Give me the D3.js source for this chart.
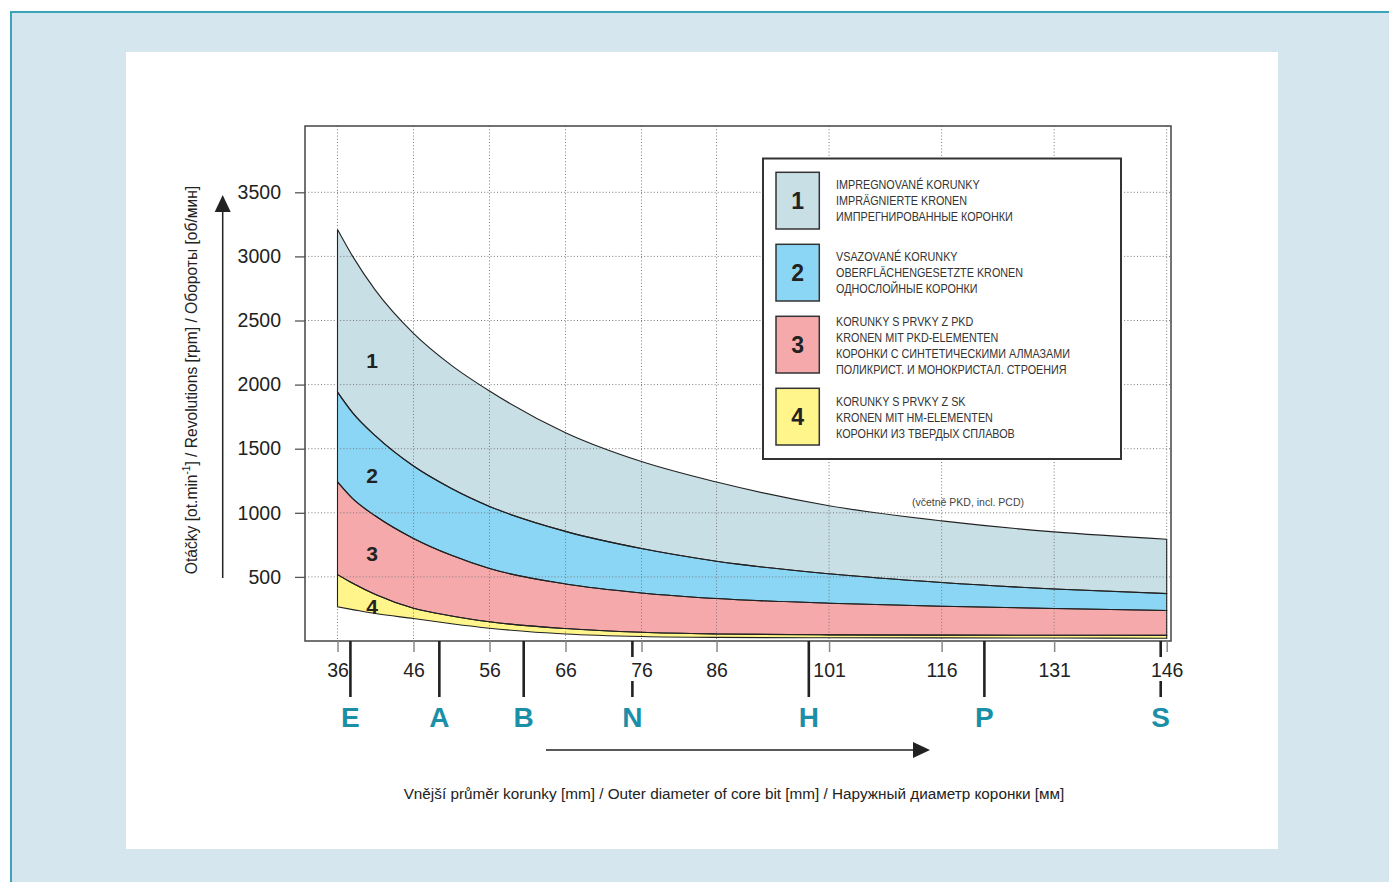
<!DOCTYPE html>
<html><head><meta charset="utf-8">
<script src="https://cdn.jsdelivr.net/npm/d3@7/dist/d3.min.js"></script>
<style>html,body{margin:0;padding:0;background:#fff;}svg{display:block;}</style>
</head><body>
<svg id="c" width="1389" height="882"></svg>
<script>
// ---- data ----
const tickDiam = [36, 46, 56, 66, 76, 86, 101, 116, 131, 146];
const curveDiam = [36, 38, 41, 46, 51, 56, 66, 76, 86, 101, 116, 131, 146];
const curve1 = [3210, 3000, 2735, 2400, 2150, 1950, 1625, 1400, 1240, 1055, 937, 851, 794];
const curve2 = [1942, 1780, 1600, 1365, 1190, 1050, 855, 721, 622, 524, 456, 406, 370];
const curve3 = [1241, 1110, 975, 800, 668, 565, 445, 375, 331, 295, 271, 253, 238];
const curve4 = [518, 450, 362, 255, 195, 150, 97, 68, 55, 48, 46, 45, 44];
const curve5 = [266, 245, 214, 175, 135, 100, 55, 35, 28, 25, 24, 23, 22];
const yTicks = [500, 1000, 1500, 2000, 2500, 3000, 3500];
const seriesLetters = ["E", "A", "B", "N", "H", "P", "S"];
const seriesDiam = [37.7, 49.4, 60.5, 74.8, 98.3, 121.7, 145.2];
const bandNames = ["1", "2", "3", "4"];
const bandLabelValue = [2190, 1290, 680, 268];
const legendLines = [
  ["IMPREGNOVANÉ KORUNKY", "IMPRÄGNIERTE KRONEN", "ИМПРЕГНИРОВАННЫЕ КОРОНКИ"],
  ["VSAZOVANÉ KORUNKY", "OBERFLÄCHENGESETZTE KRONEN", "ОДНОСЛОЙНЫЕ КОРОНКИ"],
  ["KORUNKY S PRVKY Z PKD", "KRONEN MIT PKD-ELEMENTEN", "КОРОНКИ С СИНТЕТИЧЕСКИМИ АЛМАЗАМИ", "ПОЛИКРИСТ. И МОНОКРИСТАЛ. СТРОЕНИЯ"],
  ["KORUNKY S PRVKY Z SK", "KRONEN MIT HM-ELEMENTEN", "КОРОНКИ ИЗ ТВЕРДЫХ СПЛАВОВ"]
];
const noteText = "(včetně PKD, incl. PCD)";
const yTitle = ["Otáčky [ot.min", "-1", "] / Revolutions [rpm] / Обороты [об/мин]"];
const xTitle = "Vnější průměr korunky [mm] / Outer diameter of core bit [mm] / Наружный диаметр коронки [мм]";

// ---- styles / layout ----
const bandColors = ["#c8dfe6", "#8bd6f5", "#f6a9ab", "#fff58a"];
const font = "'Liberation Sans', Arial, Helvetica, sans-serif";
const teal = "#1a8fa7";
const plot = {l: 305, r: 1171, t: 126, b: 641};

const svg = d3.select("#c");
svg.append("rect").attr("x", 11).attr("y", 12).attr("width", 1400).attr("height", 900)
  .attr("fill", "#d5e6ee").attr("stroke", "#3aa5b8").attr("stroke-width", 2);
svg.append("rect").attr("x", 126).attr("y", 52).attr("width", 1152).attr("height", 797).attr("fill", "#fff");

const x = d3.scaleLinear().domain([36, 76, 146]).range([337.5, 641.5, 1166.7]);
const y = d3.scaleLinear().domain([0, 4000]).range([641, 128.2]);

const curves = [curve1, curve2, curve3, curve4, curve5];
const bands = d3.range(4).map(i => curveDiam.map((d, j) => ({d, top: curves[i][j], bot: curves[i + 1][j]})));
const area = d3.area().x(p => x(p.d)).y0(p => y(p.bot)).y1(p => y(p.top)).curve(d3.curveMonotoneX);

const g = svg.append("g");
g.selectAll("path.band").data(bands).join("path").attr("class", "band")
  .attr("d", area).attr("fill", (d, i) => bandColors[i]).attr("stroke", "none");

// grid (dotted, over the fills)
const grid = g.append("g").attr("stroke", "#7a7a7a").attr("stroke-width", 1).attr("stroke-dasharray", "1,2.2");
grid.selectAll("line.v").data(tickDiam).join("line").attr("class", "v")
  .attr("x1", d => x(d)).attr("x2", d => x(d)).attr("y1", plot.t).attr("y2", plot.b);
grid.selectAll("line.h").data(yTicks).join("line").attr("class", "h")
  .attr("x1", plot.l).attr("x2", plot.r).attr("y1", d => y(d)).attr("y2", d => y(d));

// band outlines
g.selectAll("path.outline").data(bands).join("path").attr("class", "outline")
  .attr("d", area).attr("fill", "none").attr("stroke", "#222").attr("stroke-width", 1.1);

// band numbers
g.selectAll("text.bn").data(bandNames).join("text").attr("class", "bn")
  .attr("x", 372).attr("y", (d, i) => y(bandLabelValue[i]))
  .attr("text-anchor", "middle").attr("dominant-baseline", "central")
  .attr("font-family", font).attr("font-weight", "bold").attr("font-size", 21).attr("fill", "#222")
  .text(d => d);

// note
g.append("text").attr("x", 968).attr("y", 502).attr("text-anchor", "middle").attr("dominant-baseline", "central")
  .attr("font-family", font).attr("font-size", 10.5).attr("fill", "#444").text(noteText);

// frame
svg.append("rect").attr("x", plot.l).attr("y", plot.t).attr("width", plot.r - plot.l).attr("height", plot.b - plot.t)
  .attr("fill", "none").attr("stroke", "#444").attr("stroke-width", 1.5);

// y axis
const yAxis = svg.append("g").attr("transform", `translate(${plot.l},0)`)
  .call(d3.axisLeft(y).tickValues(yTicks).tickSize(10).tickPadding(14).tickFormat(d3.format("d")));
yAxis.select(".domain").remove();
yAxis.selectAll(".tick line").attr("stroke", "#555").attr("stroke-width", 1.3);
yAxis.selectAll(".tick text").attr("font-family", font).attr("font-size", 19.5).attr("fill", "#222");

// x axis
const xAxis = svg.append("g").attr("transform", `translate(0,${plot.b})`)
  .call(d3.axisBottom(x).tickValues(tickDiam).tickSize(11).tickPadding(11).tickFormat(d3.format("d")));
xAxis.select(".domain").remove();
xAxis.selectAll(".tick line").attr("stroke", "#888").attr("stroke-width", 1.5);
xAxis.selectAll(".tick text").attr("font-family", font).attr("font-size", 19.5).attr("fill", "#222");

// series letter markers
const lg = svg.append("g");
seriesDiam.forEach((d, i) => {
  const px = x(d);
  const near = tickDiam.some(t => Math.abs(x(t) - px) < 12);
  const segs = near ? [[plot.b, 657], [681, 697]] : [[plot.b, 697]];
  segs.forEach(s => lg.append("line").attr("x1", px).attr("x2", px).attr("y1", s[0]).attr("y2", s[1])
    .attr("stroke", "#222").attr("stroke-width", 2.6));
  lg.append("text").attr("x", px).attr("y", 727).attr("text-anchor", "middle")
    .attr("font-family", font).attr("font-weight", "bold").attr("font-size", 28).attr("fill", teal)
    .text(seriesLetters[i]);
});

// legend
const leg = svg.append("g");
leg.append("rect").attr("x", 763).attr("y", 158.5).attr("width", 358).attr("height", 300.5)
  .attr("fill", "#fff").attr("stroke", "#333").attr("stroke-width", 2);
const rowTop = [172.3, 244.3, 316.3, 388.3];
const textStart = [184.3, 256.7, 321.7, 401.7];
bandNames.forEach((n, i) => {
  leg.append("rect").attr("x", 776).attr("y", rowTop[i]).attr("width", 43.3).attr("height", 56.7)
    .attr("fill", bandColors[i]).attr("stroke", "#333").attr("stroke-width", 1.5);
  leg.append("text").attr("x", 797.7).attr("y", rowTop[i] + 28.5).attr("text-anchor", "middle")
    .attr("dominant-baseline", "central").attr("font-family", font).attr("font-weight", "bold")
    .attr("font-size", 23).attr("fill", "#222").text(n);
  legendLines[i].forEach((t, k) => {
    leg.append("text").attr("transform", `translate(836,${textStart[i] + k * 16.1}) scale(0.9,1)`)
      .attr("dominant-baseline", "central").attr("font-family", font).attr("font-size", 12)
      .attr("fill", "#333").text(t);
  });
});

// y title + arrow
const yt = svg.append("text").attr("transform", "translate(191,380) rotate(-90)")
  .attr("text-anchor", "middle").attr("dominant-baseline", "central")
  .attr("font-family", font).attr("font-size", 15.6).attr("fill", "#222");
yt.append("tspan").text(yTitle[0]);
yt.append("tspan").attr("font-size", 10).attr("dy", -5).text(yTitle[1]);
yt.append("tspan").attr("dy", 5).text(yTitle[2]);
svg.append("line").attr("x1", 222.7).attr("x2", 222.7).attr("y1", 578).attr("y2", 210).attr("stroke", "#222").attr("stroke-width", 1.5);
svg.append("path").attr("d", "M222.7,195 L214.7,212 L230.7,212 Z").attr("fill", "#222");

// x title + arrow
svg.append("line").attr("x1", 546).attr("x2", 914).attr("y1", 750).attr("y2", 750).attr("stroke", "#222").attr("stroke-width", 1.5);
svg.append("path").attr("d", "M930,750 L913,742 L913,758 Z").attr("fill", "#222");
svg.append("text").attr("x", 734).attr("y", 793).attr("text-anchor", "middle").attr("dominant-baseline", "central")
  .attr("font-family", font).attr("font-size", 15.3).attr("fill", "#222").text(xTitle);
</script>
</body></html>
